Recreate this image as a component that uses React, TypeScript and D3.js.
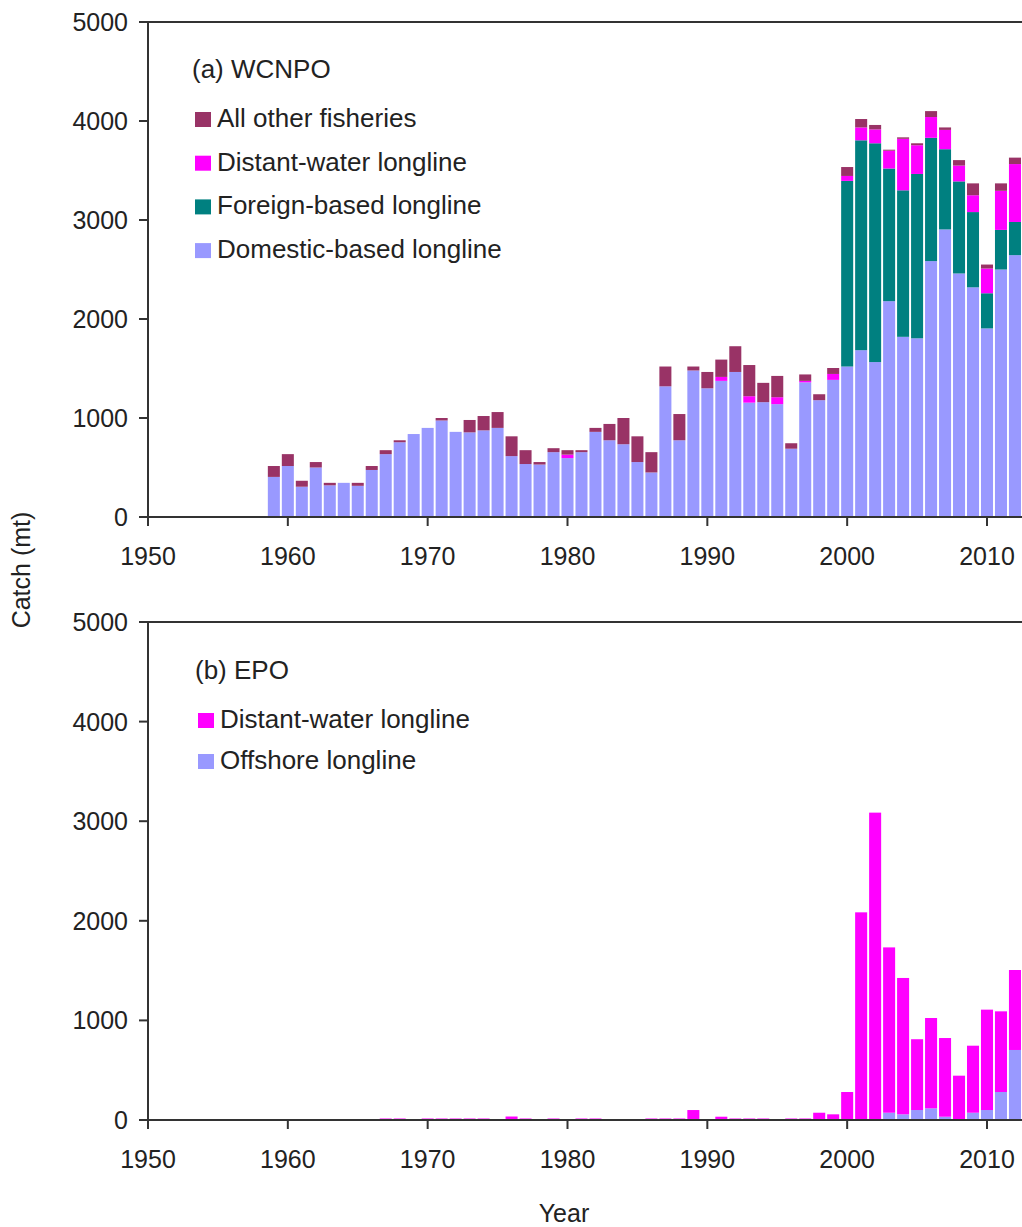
import { useMemo } from "react";
import * as d3 from "d3";

// (a) WCNPO, 1959-2012
const yearsA = d3.range(1959, 2013);
const domestic = [
  405, 515, 306, 500, 320, 345, 315, 475, 635, 755, 838, 900, 975, 860, 855, 875, 900, 615, 535, 530,
  655, 595, 655, 860, 775, 735, 555, 450, 1320, 775, 1480, 1300, 1375, 1465, 1155, 1160, 1140, 690,
  1360, 1180, 1385, 1520, 1685, 1565, 2180, 1820, 1805, 2585, 2905, 2460, 2320, 1905, 2500, 2645,
];
const foreign = [
  0, 0, 0, 0, 0, 0, 0, 0, 0, 0, 0, 0, 0, 0, 0, 0, 0, 0, 0, 0,
  0, 0, 0, 0, 0, 0, 0, 0, 0, 0, 0, 0, 0, 0, 0, 0, 0, 0,
  0, 0, 0, 1875, 2120, 2210, 1340, 1480, 1660, 1245, 810, 930, 760, 355, 400, 335,
];
const distantA = [
  0, 0, 0, 0, 0, 0, 0, 0, 0, 0, 0, 0, 0, 0, 0, 0, 0, 0, 0, 0,
  0, 35, 0, 0, 0, 0, 0, 0, 0, 0, 0, 0, 40, 0, 65, 0, 70, 0,
  15, 0, 60, 50, 130, 140, 180, 520, 290, 210, 195, 160, 170, 250, 395, 585,
];
const otherA = [
  110, 120, 60, 55, 25, 0, 30, 40, 40, 20, 0, 0, 25, 0, 125, 145, 160, 200, 140, 25,
  40, 45, 20, 40, 165, 265, 260, 205, 200, 265, 40, 165, 175, 260, 315, 195, 215, 55,
  65, 60, 60, 90, 85, 45, 10, 15, 20, 60, 25, 55, 120, 40, 75, 65,
];

// (b) EPO, 1967-2012
const yearsB = d3.range(1967, 2013);
const offshore = [
  0, 0, 0, 0, 0, 0, 0, 0, 0, 0, 0, 0, 0, 0, 0, 0, 0, 0, 0, 0,
  0, 0, 0, 0, 0, 0, 0, 0, 0, 0, 0, 0, 0, 0, 0, 0,
  73, 57, 100, 117, 33, 5, 73, 100, 281, 703,
];
const distantB = [
  15, 15, 0, 15, 15, 15, 15, 15, 0, 35, 15, 0, 15, 0, 15, 15, 0, 0, 0, 15,
  15, 15, 100, 5, 33, 15, 15, 15, 0, 15, 15, 73, 57, 281, 2085, 3086,
  1660, 1369, 711, 907, 790, 440, 673, 1008, 810, 803,
];

const yTicks = [0, 1000, 2000, 3000, 4000, 5000];
const xTicks = [1950, 1960, 1970, 1980, 1990, 2000, 2010];

const C = {
  domestic: "#9999ff",
  foreign: "#008080",
  distant: "#ff00ff",
  other: "#993366",
};

const FONT = "'Liberation Sans', Arial, sans-serif";
const AXIS = "#333";

const x = d3.scaleLinear().domain([1950, 2010]).range([148, 987]);
const barW = (x(1951) - x(1950)) * 0.86;

type Series = { key: string; color: string; values: number[] };
type Legend = { label: string; color: string }[];

function Panel({
  top,
  bottom,
  years,
  series,
  title,
  titleY,
  legend,
  legendX,
  legendY,
  legendGap,
}: {
  top: number;
  bottom: number;
  years: number[];
  series: Series[];
  title: string;
  titleY: number;
  legend: Legend;
  legendX: number;
  legendY: number;
  legendGap: number;
}) {
  const y = d3.scaleLinear().domain([0, 5000]).range([bottom, top]);
  const rows = years.map((yr, i) => {
    const r: Record<string, number> = { year: yr };
    series.forEach((s) => (r[s.key] = s.values[i]));
    return r;
  });
  const stacked = useMemo(
    () => d3.stack<Record<string, number>>().keys(series.map((s) => s.key))(rows),
    [series]
  );

  return (
    <g>
      {stacked.map((layer, li) => (
        <g key={layer.key} fill={series[li].color}>
          {layer.map((d, i) =>
            d[1] - d[0] > 0 ? (
              <rect
                key={i}
                x={x(d.data.year) - barW / 2}
                width={barW}
                y={y(d[1])}
                height={y(d[0]) - y(d[1])}
              />
            ) : null
          )}
        </g>
      ))}
      <line x1={x(1950)} x2={1100} y1={y(0)} y2={y(0)} stroke={AXIS} strokeWidth={2} />
      <line x1={x(1950)} x2={1100} y1={y(5000)} y2={y(5000)} stroke={AXIS} strokeWidth={2} />
      <line x1={x(1950)} x2={x(1950)} y1={y(5000)} y2={y(0) + 9} stroke={AXIS} strokeWidth={2} />
      {yTicks.map((t) => (
        <g key={t}>
          <line x1={x(1950) - 9} x2={x(1950)} y1={y(t)} y2={y(t)} stroke={AXIS} strokeWidth={2} />
          <text
            x={128}
            y={y(t)}
            dy="0.36em"
            textAnchor="end"
            fontSize={25}
            fontFamily={FONT}
            fill="#222"
          >
            {t}
          </text>
        </g>
      ))}
      {xTicks.map((t) => (
        <g key={t}>
          <line x1={x(t)} x2={x(t)} y1={y(0)} y2={y(0) + 9} stroke={AXIS} strokeWidth={2} />
          <text
            x={x(t)}
            y={y(0) + 48}
            textAnchor="middle"
            fontSize={25}
            fontFamily={FONT}
            fill="#222"
          >
            {t}
          </text>
        </g>
      ))}
      <text x={legendX - 3} y={titleY} fontSize={26} fontFamily={FONT} fill="#222">
        {title}
      </text>
      {legend.map((l, i) => (
        <g key={l.label} transform={`translate(${legendX},${legendY + i * legendGap})`}>
          <rect x={0} y={-15} width={16} height={15} fill={l.color} />
          <text x={22} y={0} fontSize={26} fontFamily={FONT} fill="#222">
            {l.label}
          </text>
        </g>
      ))}
    </g>
  );
}

export default function App() {
  const seriesA: Series[] = [
    { key: "domestic", color: C.domestic, values: domestic },
    { key: "foreign", color: C.foreign, values: foreign },
    { key: "distant", color: C.distant, values: distantA },
    { key: "other", color: C.other, values: otherA },
  ];
  const seriesB: Series[] = [
    { key: "offshore", color: C.domestic, values: offshore },
    { key: "distant", color: C.distant, values: distantB },
  ];
  return (
    <div style={{ position: "absolute", left: 0, top: 0 }}>
      <svg width={1022} height={1227} style={{ display: "block", background: "#fff" }}>
        <Panel
          top={22}
          bottom={517}
          years={yearsA}
          series={seriesA}
          title="(a) WCNPO"
          titleY={78}
          legend={[
            { label: "All other fisheries", color: C.other },
            { label: "Distant-water longline", color: C.distant },
            { label: "Foreign-based longline", color: C.foreign },
            { label: "Domestic-based longline", color: C.domestic },
          ]}
          legendX={195}
          legendY={127}
          legendGap={43.7}
        />
        <Panel
          top={622}
          bottom={1120}
          years={yearsB}
          series={seriesB}
          title="(b) EPO"
          titleY={679}
          legend={[
            { label: "Distant-water longline", color: C.distant },
            { label: "Offshore longline", color: C.domestic },
          ]}
          legendX={198}
          legendY={728}
          legendGap={41}
        />
        <text
          transform="translate(30,570) rotate(-90)"
          textAnchor="middle"
          fontSize={25}
          fontFamily={FONT}
          fill="#222"
        >
          Catch (mt)
        </text>
        <text x={564} y={1222} textAnchor="middle" fontSize={25} fontFamily={FONT} fill="#222">
          Year
        </text>
      </svg>
    </div>
  );
}
